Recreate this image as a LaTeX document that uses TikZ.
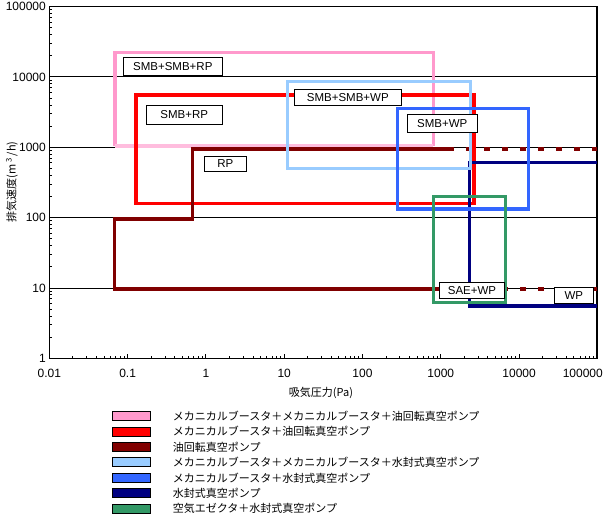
\documentclass[tikz,border=0pt]{standalone}
\usepackage{fontspec}
\setmainfont{Liberation Sans}
\newfontfamily\jpfont{Noto Sans CJK JP}
\definecolor{pinkc}{HTML}{FF99CC}
\definecolor{redc}{HTML}{FF0000}
\definecolor{drc}{HTML}{800000}
\definecolor{lbc}{HTML}{99CCFF}
\definecolor{bluec}{HTML}{3366FF}
\definecolor{navyc}{HTML}{000080}
\definecolor{greenc}{HTML}{339966}
\begin{document}
\begin{tikzpicture}[x=1pt,y=-1pt,line join=miter,
  series/.style={line width=3.2pt},
  tag/.style={draw=black,line width=0.9pt,fill=white,inner sep=0pt,font=\fontsize{11.5}{12}\selectfont},
  gridline/.style={line width=1.1pt},
  ticklab/.style={font=\fontsize{12}{14}\selectfont,inner sep=0pt},
  jplab/.style={font=\jpfont\fontsize{11}{13}\selectfont,inner sep=0pt},
  swatch/.style={draw=black,line width=0.8pt}]
\useasboundingbox (0,0) rectangle (606,516);
% frame and grid
\draw[gridline] (49.3,6.7) rectangle (597,358.3);
\foreach \yy in {76.7,147.3,217.7,288.3} \draw[gridline] (49.3,\yy) -- (597,\yy);
% ticks
\foreach \d in {0,...,4} \foreach \k in {2,...,9} {
  \pgfmathsetmacro\yy{358.3-(\d+log10(\k))*70.32}
  \draw[line width=0.9pt] (49.3,\yy) -- ++(3,0);
}
\foreach \d in {0,...,6} {
  \foreach \k in {2,...,9} {
    \pgfmathsetmacro\xx{49.3+(\d+log10(\k))*78.3}
    \draw[line width=0.9pt] (\xx,358.3) -- ++(0,-2.5);
  }
}
\foreach \d in {1,...,6} {
  \pgfmathsetmacro\xx{49.3+\d*78.3}
  \draw[line width=0.9pt] (\xx,358.3) -- ++(0,-4);
}
% tick labels
\foreach \lab [count=\i from 0] in {1,10,100,1000,10000,100000} {
  \pgfmathsetmacro\yy{358.3-\i*70.32}
  \node[ticklab,anchor=east] (yl\i) at (46,\yy) {\lab};
}
\foreach \lab [count=\i from 0] in {0.01,0.1,1,10,100,1000,10000} {
  \pgfmathsetmacro\xx{49.3+\i*78.3}
  \node[ticklab] (xl\i) at (\xx,373) {\lab};
}
\node[ticklab,anchor=east] (xl7) at (603,373) {100000};
% axis titles
\node[jplab] (xt) at (321,393) {吸気圧力(Pa)};
\node[jplab,rotate=90] (yt) at (12,182) {排気速度(m\,\textsuperscript{3}\,/h)};
% pink SMB+SMB+RP
\draw[series,pinkc] (115,146) -- (115,52.7) -- (433.3,52.7) -- (433.3,146);
\draw[series,pinkc!65!white] (115,146) -- (433.3,146);
% red SMB+RP
\draw[series,redc] (136,95) rectangle (474,203.3);
% dark red RP
\draw[series,drc] (454,289) -- (114.3,289) -- (114.3,219) -- (192.3,219) -- (192.3,149) -- (454,149);
\draw[series,drc,dash pattern=on 6pt off 12pt] (466,149) -- (597,149);
\draw[series,drc,dash pattern=on 6pt off 12pt] (466,289) -- (597,289);
% navy WP
\draw[series,navyc] (597,162.3) -- (469.3,162.3) -- (469.3,306) -- (597,306);
% light blue SMB+SMB+WP
\draw[series,lbc] (287.3,81.7) rectangle (470.7,168.3);
% blue SMB+WP
\draw[series,bluec] (397.3,108.3) rectangle (528.3,209);
% green SAE+WP
\draw[series,greenc] (433.3,196.7) rectangle (505.5,302.3);
% labels
\node[tag,minimum width=99pt,minimum height=18.4pt] (t1) at (172.8,66.5) {SMB+SMB+RP};
\node[tag,minimum width=76pt,minimum height=18.6pt] (t2) at (184.3,115) {SMB+RP};
\node[tag,minimum width=42pt,minimum height=15pt] (t3) at (225.3,163.8) {RP};
\node[tag,minimum width=107pt,minimum height=16pt] (t4) at (347.8,97.3) {SMB+SMB+WP};
\node[tag,minimum width=70pt,minimum height=18pt] (t5) at (442.3,123.3) {SMB+WP};
\node[tag,minimum width=65.4pt,minimum height=16pt] (t6) at (472,290.3) {SAE+WP};
\node[tag,minimum width=39pt,minimum height=16pt] (t7) at (573.8,295.3) {WP};
% legend
\foreach \c/\txt [count=\i from 0] in {
  pinkc/メカニカルブースタ＋メカニカルブースタ＋油回転真空ポンプ,
  redc/メカニカルブースタ＋油回転真空ポンプ,
  drc/油回転真空ポンプ,
  lbc/メカニカルブースタ＋メカニカルブースタ＋水封式真空ポンプ,
  bluec/メカニカルブースタ＋水封式真空ポンプ,
  navyc/水封式真空ポンプ,
  greenc/空気エゼクタ＋水封式真空ポンプ} {
  \pgfmathsetmacro\yy{416+\i*15.45}
  \draw[swatch,fill=\c] (112.7,\yy-4.5) rectangle (150,\yy+4.5);
  \node[jplab,anchor=west] (lg\i) at (172.7,\yy) {\txt};
}
\end{tikzpicture}
\end{document}
